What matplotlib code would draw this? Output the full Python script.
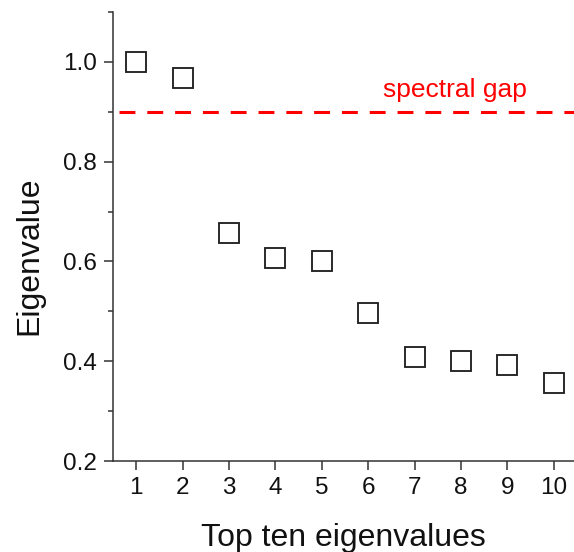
import matplotlib
matplotlib.use("Agg")
import matplotlib.pyplot as plt
from matplotlib.ticker import MultipleLocator

plt.rcParams['font.family'] = ['Liberation Sans', 'DejaVu Sans']

rank = [1, 2, 3, 4, 5, 6, 7, 8, 9, 10]
eigenvalues = [1.000, 0.967, 0.657, 0.607, 0.601, 0.497, 0.408, 0.400, 0.392, 0.356]
gap_level = 0.9
gap_label = "spectral gap"

fig = plt.figure(figsize=(5.74, 5.52), dpi=100)
ax = fig.add_axes([113 / 574, 1 - 461 / 552, (577 - 113) / 574, (461 - 12) / 552])

ax.plot(rank, eigenvalues, linestyle='none', marker='s', markersize=14.5,
        markerfacecolor='white', markeredgecolor='#222222', markeredgewidth=1.35)

ax.hlines(gap_level, 0.63, 10.45, colors='#ff0000', linewidth=2.2,
          linestyles=(0, (5.2, 3.9)))
ax.text(7.875, 0.929, gap_label, color='#ff0000', fontsize=19,
        ha='center', va='baseline')

ax.set_xlim(0.5, 10.5)
ax.set_ylim(0.2, 1.1)
ax.xaxis.set_major_locator(MultipleLocator(1))
ax.yaxis.set_minor_locator(MultipleLocator(0.1))
ax.set_yticks([0.2, 0.4, 0.6, 0.8, 1.0])

for side in ('top', 'right'):
    ax.spines[side].set_visible(False)
for side in ('left', 'bottom'):
    ax.spines[side].set_linewidth(1.1)
    ax.spines[side].set_color('#333333')

ax.tick_params(axis='both', which='major', direction='out', length=6.5, width=1.1,
               color='#333333', labelsize=17.5, labelcolor='#111111', pad=5)
ax.tick_params(axis='y', which='minor', direction='out', length=3.5, width=1.1,
               color='#333333')

ax.set_xlabel("Top ten eigenvalues", fontsize=23, color='#111111')
ax.set_ylabel("Eigenvalue", fontsize=23, color='#111111')
ax.xaxis.set_label_coords(0.497, -0.138)
ax.yaxis.set_label_coords(-0.147, 0.457)

fig.savefig("out.png", dpi=100)
